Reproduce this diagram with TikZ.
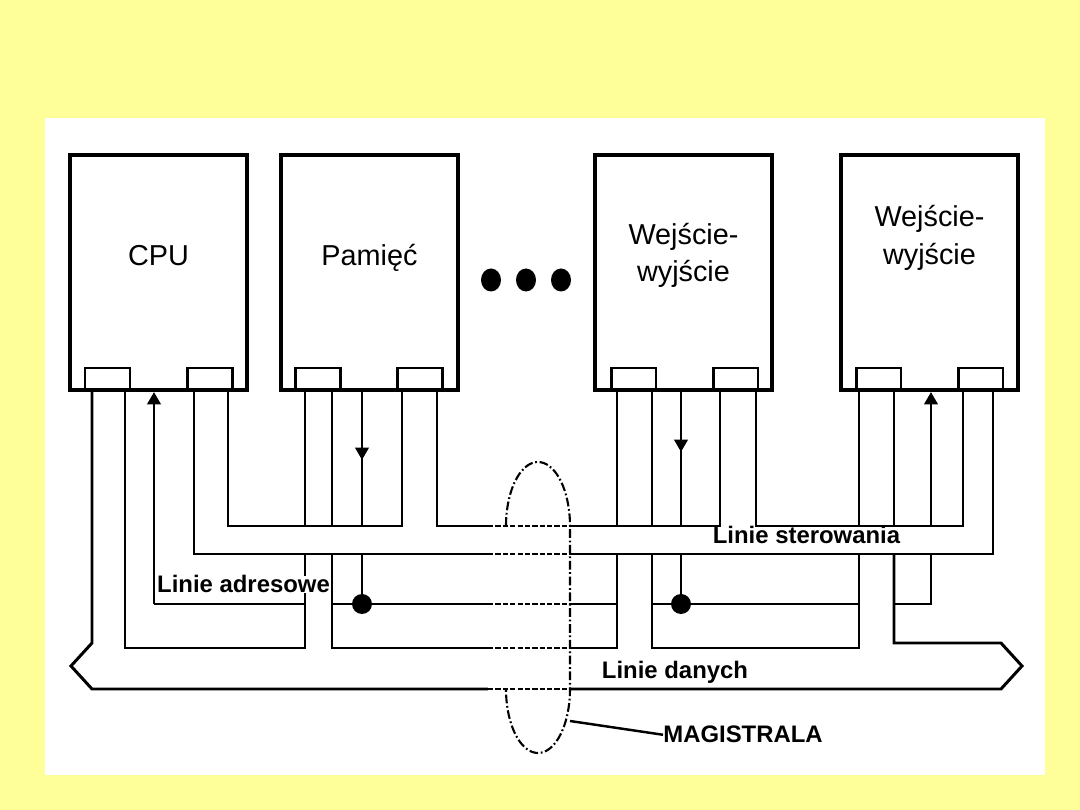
\documentclass[tikz,border=0pt]{standalone}
\usepackage{fontspec}
\setmainfont{Liberation Sans}
\usetikzlibrary{arrows.meta,shapes.geometric}
\definecolor{slidebg}{HTML}{FFFF99}
\tikzset{
  unit/.style    ={draw,line width=1.9pt,fill=white,minimum width=3.54cm,
                   minimum height=4.7cm,inner sep=0pt},
  port/.style    ={draw,line width=1.7pt,fill=white,minimum width=0.9cm,
                   minimum height=0.44cm,inner sep=0pt},
  unitlbl/.style ={font=\fontsize{16.4}{20}\selectfont,inner sep=0pt,anchor=base},
  buslbl/.style  ={font=\fontsize{13.6}{16}\selectfont\bfseries,inner sep=0pt,anchor=base},
  wire/.style    ={line width=1.7pt,line join=miter},
  flowtip/.style ={wire,-{Triangle[width=7.5pt,length=7pt]}},
  hidden/.style  ={line width=1.3pt,dash pattern=on 3pt off 1.2pt},
  tube/.style    ={line width=1.2pt,dash pattern=on 5pt off 1.5pt on 1pt off 1.5pt},
  junction/.style={circle,fill,inner sep=0pt,minimum size=0.4cm},
  moredot/.style ={ellipse,fill,inner sep=0pt,minimum width=0.4cm,minimum height=0.46cm}
}
\begin{document}
\begin{tikzpicture}[x=0.02cm,y=-0.02cm]
  % --- slide and panel ---
  \fill[slidebg] (0,0) rectangle (1080,810);
  \fill[white] (45,118) rectangle (1045,775);
  % --- units ---
  \node[unit] (cpu) at (158.5,272.5) {};
  \node[unit] (mem) at (369.5,272.5) {};
  \node[unit] (io1) at (683.5,272.5) {};
  \node[unit] (io2) at (929.5,272.5) {};
  \node[unitlbl] (cpu-t)  at (158.5,266) {CPU};
  \node[unitlbl] (mem-t)  at (369.5,266) {Pamięć};
  \node[unitlbl] (io1-t1) at (683.5,245) {Wejście-};
  \node[unitlbl] (io1-t2) at (683.5,282) {wyjście};
  \node[unitlbl] (io2-t1) at (929.5,227) {Wejście-};
  \node[unitlbl] (io2-t2) at (929.5,265) {wyjście};
  % --- ports ---
  \node[port] (cpu-p1) at (107.5,379) {};
  \node[port] (cpu-p2) at (210,379) {};
  \node[port] (mem-p1) at (318,379) {};
  \node[port] (mem-p2) at (420,379) {};
  \node[port] (io1-p1) at (633.5,379) {};
  \node[port] (io1-p2) at (735.5,379) {};
  \node[port] (io2-p1) at (878.5,379) {};
  \node[port] (io2-p2) at (980.5,379) {};
  % three dots between the units
  \node[moredot] (more1) at (491,280) {};
  \node[moredot] (more2) at (526,280) {};
  \node[moredot] (more3) at (561,280) {};
  % --- data bus: outer edge with both arrow ends ---
  \draw[wire] (92,390) -- (92,643) -- (71,666) -- (92,689) -- (1001,689)
    -- (1022,666) -- (1001,643) -- (894,643) -- (894,554);
  \draw[wire] (894,526) -- (894,390);
  % data bus: inner edge, one U per pair of neighbours
  \draw[wire] (125,390) -- (125,648) -- (305,648) -- (305,554);
  \draw[wire] (305,526) -- (305,390);
  \draw[wire] (332,390) -- (332,526);
  \draw[wire] (332,554) -- (332,648) -- (617,648) -- (617,554);
  \draw[wire] (617,526) -- (617,390);
  \draw[wire] (652,390) -- (652,526);
  \draw[wire] (652,554) -- (652,648) -- (859,648) -- (859,554);
  \draw[wire] (859,526) -- (859,390);
  % --- control bus ---
  \draw[wire] (194,390) -- (194,554) -- (993,554) -- (993,390);
  \draw[wire] (228,390) -- (228,526) -- (402,526) -- (402,390);
  \draw[wire] (437,390) -- (437,526) -- (720,526) -- (720,390);
  \draw[wire] (756,390) -- (756,526) -- (963,526) -- (963,390);
  % --- address lines ---
  \draw[wire] (154,604) -- (305,604);
  \draw[wire] (332,604) -- (617,604);
  \draw[wire] (652,604) -- (859,604);
  \draw[wire] (894,604) -- (931,604) -- (931,554);
  \draw[flowtip] (154,604) -- (154,392);
  \draw[flowtip] (931,526) -- (931,392);
  \draw[wire] (362,390) -- (362,526) (362,554) -- (362,604);
  \draw[wire] (681,390) -- (681,526) (681,554) -- (681,604);
  \draw[flowtip] (362,420) -- (362,460);
  \draw[flowtip] (681,410) -- (681,452);
  \node[junction] (j-mem) at (362,604) {};
  \node[junction] (j-io1) at (681,604) {};
  % --- the bus bundle seen through the tube ---
  \fill[white] (488,520) rectangle (569,695);
  \foreach \y in {526,554,604,648,689}
    \draw[hidden] (488,\y) -- (569,\y);
  \draw[tube] plot[smooth,domain=180:360,samples=37] ({538+32*cos(\x)},{526+64*sin(\x)})
    -- plot[smooth,domain=0:180,samples=37] ({538+32*cos(\x)},{689+64*sin(\x)});
  % --- labels ---
  \node[buslbl,fill=white] (adr) at (243.5,593) {Linie adresowe};
  \node[buslbl] (ster) at (806.5,544) {Linie sterowania};
  \node[buslbl] (dane) at (675,679) {Linie danych};
  \node[buslbl] (magistrala) at (743,743) {MAGISTRALA};
  \coordinate (tube-edge) at (570,721);
  \draw[line width=1.4pt] (tube-edge) -- (magistrala.west);
\end{tikzpicture}
\end{document}
